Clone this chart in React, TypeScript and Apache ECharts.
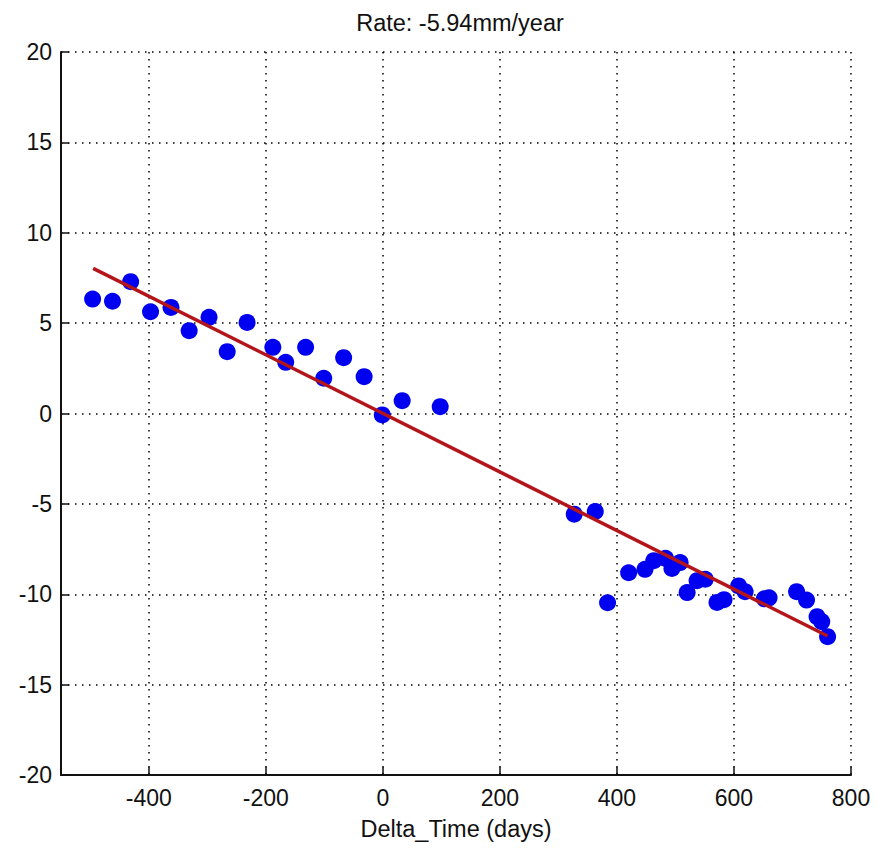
import React, { useEffect, useRef } from "react";
import * as echarts from "echarts";

const titleText = "Rate: -5.94mm/year";
const xAxisName = "Delta_Time (days)";
const xTicks = [-400, -200, 0, 200, 400, 600, 800];

const deltaDays = [
  -496, -462, -431, -397, -362, -331, -297, -266, -232, -188, -166, -132, -101, -67, -32, -1, 33, 98,
  327, 363, 384, 420, 448, 463, 483, 494, 508, 520, 537, 551, 571, 583, 608, 619, 652, 660, 707, 724,
  742, 750, 760,
];
const displacement = [
  6.33, 6.21, 7.29, 5.63, 5.87, 4.58, 5.32, 3.42, 5.04, 3.66, 2.83, 3.66, 1.95, 3.09, 2.04, -0.08, 0.71,
  0.38, -5.57, -5.42, -10.47, -8.81, -8.62, -8.14, -8.01, -8.57, -8.25, -9.91, -9.25, -9.17, -10.45,
  -10.3, -9.54, -9.86, -10.25, -10.2, -9.86, -10.32, -11.24, -11.52, -12.35,
];
const fitX = [-495, 760];
const fitY = [8.03, -12.31];

const FONT = "'Liberation Sans', Arial, Helvetica, sans-serif";

export default function App() {
  const ref = useRef<HTMLDivElement>(null);
  useEffect(() => {
    document.body.style.margin = "0";
    const chart = echarts.init(ref.current!, null, { renderer: "svg" });
    const dotted = { color: "#000", width: 1.5, type: [1.5, 5.5] as any };
    chart.setOption({
      animation: false,
      backgroundColor: "#fff",
      title: {
        text: titleText,
        left: 455,
        textAlign: "center",
        top: 6,
        textStyle: { fontFamily: FONT, fontSize: 23.5, fontWeight: "normal", color: "#111" },
      },
      grid: { left: 61, right: 36, top: 52, bottom: 78, containLabel: false },
      xAxis: {
        type: "value",
        min: -550,
        max: 800,
        name: xAxisName,
        nameLocation: "middle",
        nameGap: 42,
        nameTextStyle: { fontFamily: FONT, fontSize: 23.5, color: "#111" },
        axisLine: { show: true, onZero: false, lineStyle: { color: "#111", width: 2 } },
        axisTick: { show: true, inside: true, length: 8, customValues: xTicks, lineStyle: { color: "#111", width: 1.5 } },
        axisLabel: { customValues: xTicks, margin: 11, fontFamily: FONT, fontSize: 23, color: "#111" },
        splitLine: { show: true, lineStyle: dotted },
      },
      yAxis: {
        type: "value",
        min: -20,
        max: 20,
        interval: 5,
        axisLine: { show: true, onZero: false, lineStyle: { color: "#111", width: 2 } },
        axisTick: { show: true, inside: true, length: 8, lineStyle: { color: "#111", width: 1.5 } },
        axisLabel: { margin: 9, fontFamily: FONT, fontSize: 23, color: "#111" },
        splitLine: { show: true, lineStyle: dotted },
      },
      series: [
        {
          type: "scatter",
          data: deltaDays.map((d, i) => [d, displacement[i]]),
          symbol: "circle",
          symbolSize: 17,
          itemStyle: { color: "#0000f0", opacity: 1 },
          z: 2,
        },
        {
          type: "line",
          data: fitX.map((d, i) => [d, fitY[i]]),
          symbol: "none",
          lineStyle: { color: "#b3151a", width: 3.5 },
          z: 3,
        },
      ],
    });
    return () => chart.dispose();
  }, []);
  return <div ref={ref} style={{ position: "fixed", left: 0, top: 0, width: 887, height: 853 }} />;
}
